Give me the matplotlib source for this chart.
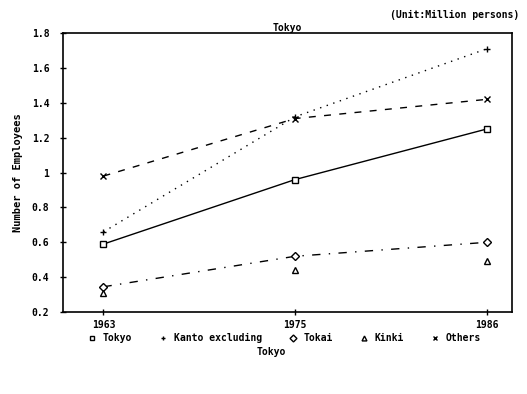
import matplotlib
matplotlib.use("Agg")
from matplotlib import pyplot as plt

years = ["1963", "1975", "1986"]
tokyo = [0.59, 0.96, 1.25]
kanto = [0.66, 1.32, 1.71]
tokai = [0.345, 0.52, 0.60]
kinki = [0.31, 0.44, 0.49]
others = [0.98, 1.31, 1.42]

plt.rcParams['font.family'] = 'DejaVu Sans Mono'
plt.rcParams['font.weight'] = 'bold'
plt.rcParams['axes.labelweight'] = 'bold'
plt.rcParams['axes.titleweight'] = 'bold'

fig = plt.figure(figsize=(5.27, 3.94), dpi=100)
ax = fig.add_axes([0.12, 0.208, 0.851, 0.708])
x = range(len(years))

ax.plot(x, tokyo, color='black', lw=1, ls='-', marker='s', mfc='white', ms=5)
ax.plot(x, kanto, color='black', lw=1, ls=(0, (1, 4)), marker='+', ms=4)
ax.plot(x, tokai, color='black', lw=1, ls=(0, (6, 6, 1, 6)), marker='D', mfc='white', ms=4)
ax.plot(x, kinki, color='black', lw=0, marker='^', mfc='white', ms=4)
ax.plot(x, others, color='black', lw=1, ls=(0, (5, 6)), marker='x', ms=4)

# legend proxies: markers only
names = ['Tokyo', 'Kanto excluding', 'Tokai', 'Kinki', 'Others']
marks = ['s', '+', 'D', '^', 'x']
handles = [ax.plot([], [], ls='none', color='black', marker=m, mfc='white', ms=3.5)[0] for m in marks]

ax.set_xlim(-0.21, 2.13)
ax.set_ylim(0.2, 1.8)
ax.set_xticks(list(x))
ax.set_xticklabels(years, fontsize=7, fontweight='bold')
ax.set_yticks([0.2, 0.4, 0.6, 0.8, 1.0, 1.2, 1.4, 1.6, 1.8])
ax.set_yticklabels(['0.2', '0.4', '0.6', '0.8', '1', '1.2', '1.4', '1.6', '1.8'], fontsize=7, fontweight='bold')
ax.tick_params(direction='inout', length=4, width=1)
ax.tick_params(axis='y', pad=8)
for s in ax.spines.values():
    s.set_linewidth(1.2)
ax.set_ylabel('Number of Employees', fontsize=7.5, fontweight='bold', labelpad=6)

ax.set_title('Tokyo', fontsize=7, pad=-1, fontweight='bold')
fig.text(0.985, 0.975, '(Unit:Million persons)', fontsize=7, ha='right', va='top', fontweight='bold')

fig.legend(handles, names, loc='center', bbox_to_anchor=(0.54, 0.142), ncol=5, frameon=False,
           handlelength=0.8, handletextpad=0.7, columnspacing=2.8,
           prop={'weight': 'bold', 'size': 7})
fig.text(0.515, 0.107, 'Tokyo', fontsize=7, ha='center', va='center', fontweight='bold')

fig.savefig('out.png', dpi=100)
